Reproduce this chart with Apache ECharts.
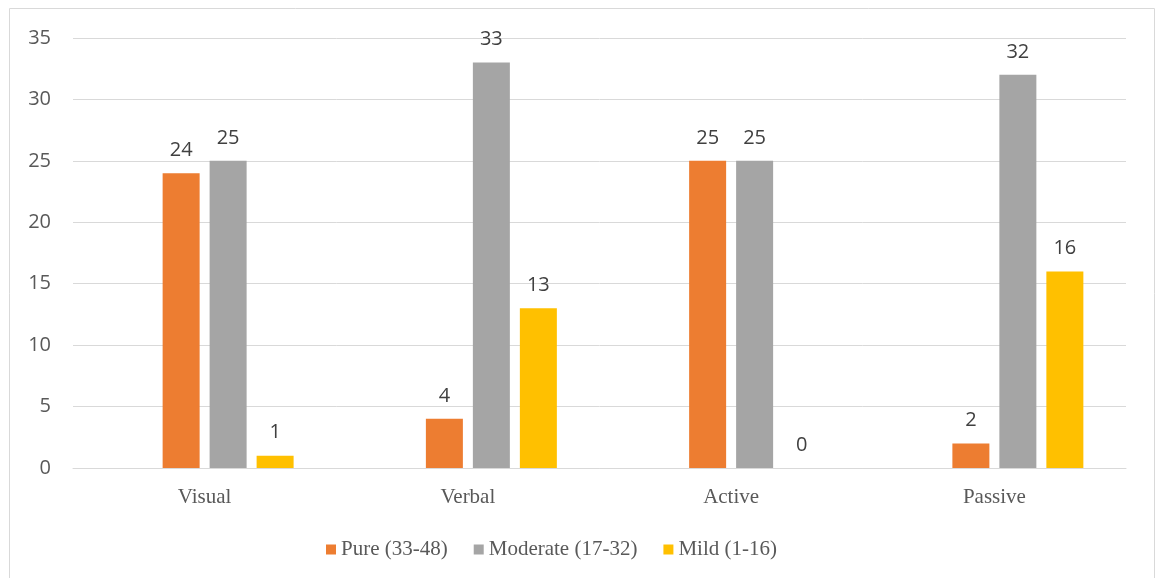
<!DOCTYPE html>
<html><head><meta charset="utf-8">
<script src="https://cdn.jsdelivr.net/npm/echarts@6/dist/echarts.min.js"></script>
<style>html,body{margin:0;padding:0;background:#fff}#c{width:1157px;height:578px}</style>
</head><body><div id="c"></div>
<script>
const categories = ['Visual', 'Verbal', 'Active', 'Passive'];
const blank = [null, null, null, null];
const pure = [24, 4, 25, 2];
const moderate = [25, 33, 25, 32];
const mild = [1, 13, 0, 16];
const seriesNames = ['Pure (33-48)', 'Moderate (17-32)', 'Mild (1-16)'];
const colors = ['#ED7D31', '#A5A5A5', '#FFC000'];

const chart = echarts.init(document.getElementById('c'));
const lbl = {show: true, position: 'top', distance: 13, color: '#404040', fontSize: 20, fontFamily: 'Open Sans'};
function mk(name, data, color) {
  return {name, type: 'bar', data, barWidth: 37, barGap: '27%', barCategoryGap: '32%',
    itemStyle: {color}, label: lbl};
}
chart.setOption({
  animation: false,
  graphic: [{type: 'rect', shape: {x: 9.5, y: 8.5, width: 1145, height: 580}, style: {fill: 'none', stroke: '#d9d9d9', lineWidth: 1}, silent: true}],
  grid: {left: 73, right: 31, top: 38, bottom: 110},
  legend: {data: seriesNames, bottom: 13, left: 321, itemWidth: 10, itemHeight: 10, itemGap: 26, icon: 'rect',
    textStyle: {fontFamily: 'Liberation Serif', fontSize: 21, color: '#595959'}},
  xAxis: {type: 'category', data: categories,
    axisLine: {lineStyle: {color: '#d9d9d9', width: 1}}, axisTick: {show: false},
    axisLabel: {fontFamily: 'Liberation Serif', fontSize: 21, color: '#595959', margin: 19}},
  yAxis: {type: 'value', min: 0, max: 35, interval: 5,
    axisLine: {show: false}, axisTick: {show: false},
    splitLine: {lineStyle: {color: '#d9d9d9', width: 1}},
    axisLabel: {fontFamily: 'Open Sans', fontSize: 20, color: '#595959', margin: 22, align: 'right'}},
  series: [
    {name: 'blank', type: 'bar', data: blank, barWidth: 37, barGap: '27%', barCategoryGap: '32%', itemStyle: {color: 'transparent'}},
    mk(seriesNames[0], pure, colors[0]), mk(seriesNames[1], moderate, colors[1]), mk(seriesNames[2], mild, colors[2])]
});
</script></body></html>
